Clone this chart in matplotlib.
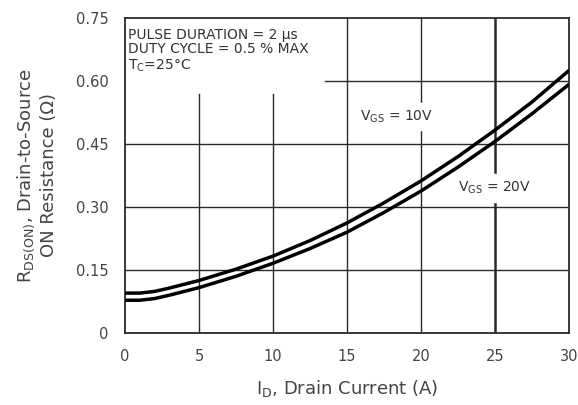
import matplotlib
matplotlib.use("Agg")
import matplotlib.pyplot as plt

plt.rcParams['font.family'] = ['DejaVu Sans']

# drain current (A)
current = [0, 1, 2, 3, 5, 7.5, 10, 12.5, 15, 17.5, 20, 22.5, 25, 27.5, 30]
# R_DS(on) in ohms
r_vgs10 = [0.095, 0.095, 0.099, 0.107, 0.125, 0.152, 0.183, 0.220, 0.262, 0.310, 0.362, 0.420, 0.483, 0.550, 0.625]
r_vgs20 = [0.078, 0.078, 0.082, 0.090, 0.108, 0.135, 0.166, 0.201, 0.240, 0.287, 0.338, 0.395, 0.456, 0.522, 0.592]

x_ticks = [0, 5, 10, 15, 20, 25, 30]
y_ticks = [0, 0.15, 0.30, 0.45, 0.60, 0.75]
y_tick_labels = ['0', '0.15', '0.30', '0.45', '0.60', '0.75']

fig = plt.figure(figsize=(5.78, 4.05), dpi=100)
ax = fig.add_axes([0.2163, 0.1778, 0.7681, 0.7778])

grid_col = '#2a2a2a'
# horizontal grid
for y in [0.15, 0.30, 0.45]:
    ax.plot([0, 30], [y, y], color=grid_col, lw=1.0, zorder=1)
ax.plot([13.5, 30], [0.60, 0.60], color=grid_col, lw=1.0, zorder=1)
# vertical grid (short ones stop under the note text)
for x in [5, 10]:
    ax.plot([x, x], [0, 0.57], color=grid_col, lw=1.0, zorder=1)
for x in [15, 20]:
    ax.plot([x, x], [0, 0.75], color=grid_col, lw=1.0, zorder=1)
ax.plot([25, 25], [0, 0.75], color=grid_col, lw=1.8, zorder=1)

ax.plot(current, r_vgs10, color='black', lw=2.5, zorder=3, solid_capstyle='butt')
ax.plot(current, r_vgs20, color='black', lw=2.5, zorder=3, solid_capstyle='butt')

ax.set_xlim(0, 30)
ax.set_ylim(0, 0.75)
ax.set_xticks(x_ticks)
ax.set_yticks(y_ticks)
ax.set_yticklabels(y_tick_labels)
ax.tick_params(length=0, labelsize=10.5, labelcolor='#444444')
ax.tick_params(axis='y', pad=12)
ax.tick_params(axis='x', pad=11.5)
for s in ax.spines.values():
    s.set_color(grid_col)
    s.set_linewidth(1.3)

note_kw = dict(fontsize=10, color='#333333', va='center')
ax.text(0.2, 0.710, 'PULSE DURATION = 2 \u03bcs', **note_kw)
ax.text(0.2, 0.675, 'DUTY CYCLE = 0.5 % MAX', **note_kw)
ax.text(0.2, 0.637, 'T$_\\mathregular{C}$=25\u00b0C', **note_kw)

ax.text(15.9, 0.515, 'V$_\\mathregular{GS}$ = 10V', fontsize=10, color='#333333', va='center',
        backgroundcolor='white')
ax.text(22.5, 0.345, 'V$_\\mathregular{GS}$ = 20V', fontsize=10, color='#333333', va='center',
        backgroundcolor='white', zorder=2)

ax.set_xlabel('I$_\\mathregular{D}$, Drain Current (A)', fontsize=13, color='#444444', labelpad=10)
ax.set_ylabel('R$_\\mathregular{DS(ON)}$, Drain-to-Source\nON Resistance (\u03a9)', fontsize=13,
              color='#444444', labelpad=13)

fig.savefig('out.png', dpi=100)
